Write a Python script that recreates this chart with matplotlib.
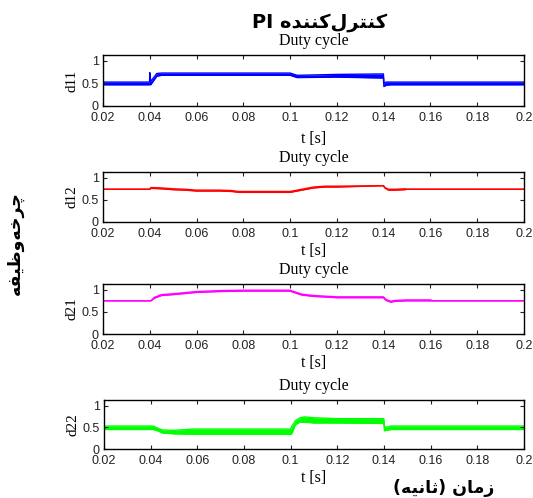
import matplotlib
matplotlib.use("Agg")
import matplotlib.pyplot as plt

# ---------------- data ----------------
t_d11 = [0.02, 0.0399, 0.0400, 0.0404, 0.0412, 0.0430, 0.0450, 0.1000, 0.1030, 0.1200, 0.1399, 0.1401, 0.1410, 0.1430, 0.2000]
d11_hi = [0.53, 0.53, 0.74, 0.54, 0.60, 0.72, 0.73, 0.73, 0.68, 0.70, 0.71, 0.50, 0.53, 0.53, 0.53]
d11_lo = [0.47, 0.47, 0.49, 0.47, 0.53, 0.66, 0.68, 0.68, 0.63, 0.64, 0.62, 0.43, 0.46, 0.47, 0.47]

t_d12 = [0.02, 0.0400, 0.0405, 0.045, 0.050, 0.055, 0.060, 0.070, 0.075, 0.078, 0.090, 0.100, 0.103, 0.107, 0.110, 0.115, 0.120, 0.1399, 0.1405, 0.142, 0.145, 0.149, 0.150, 0.2]
d12_hi = [0.74, 0.74, 0.78, 0.77, 0.75, 0.74, 0.72, 0.72, 0.71, 0.69, 0.69, 0.69, 0.72, 0.76, 0.79, 0.81, 0.81, 0.82, 0.78, 0.74, 0.74, 0.75, 0.74, 0.74]
d12_lo = [0.74, 0.74, 0.76, 0.75, 0.73, 0.72, 0.70, 0.70, 0.69, 0.67, 0.67, 0.67, 0.70, 0.74, 0.77, 0.79, 0.79, 0.82, 0.77, 0.72, 0.72, 0.73, 0.74, 0.74]

t_d21 = [0.02, 0.0405, 0.042, 0.045, 0.050, 0.060, 0.070, 0.080, 0.1000, 0.101, 0.105, 0.110, 0.120, 0.1399, 0.141, 0.143, 0.145, 0.150, 0.160, 0.161, 0.2]
d21_hi = [0.75, 0.75, 0.83, 0.89, 0.91, 0.96, 0.98, 0.99, 0.99, 0.97, 0.90, 0.87, 0.84, 0.84, 0.78, 0.74, 0.76, 0.77, 0.77, 0.75, 0.75]
d21_lo = [0.75, 0.75, 0.81, 0.87, 0.89, 0.94, 0.96, 0.97, 0.97, 0.95, 0.88, 0.85, 0.82, 0.82, 0.76, 0.72, 0.74, 0.75, 0.75, 0.75, 0.75]

t_d22 = [0.02, 0.041, 0.043, 0.045, 0.050, 0.058, 0.1000, 0.1005, 0.102, 0.104, 0.106, 0.110, 0.120, 0.1399, 0.1402, 0.141, 0.143, 0.2]
d22_hi = [0.53, 0.53, 0.48, 0.44, 0.43, 0.46, 0.46, 0.52, 0.65, 0.72, 0.74, 0.72, 0.70, 0.70, 0.52, 0.50, 0.53, 0.53]
d22_lo = [0.45, 0.45, 0.42, 0.37, 0.35, 0.34, 0.34, 0.36, 0.56, 0.62, 0.62, 0.60, 0.60, 0.59, 0.42, 0.43, 0.45, 0.45]

ylabels = ["d11", "d12", "d21", "d22"]
colors = ["#0000ff", "#ff0000", "#ff00ff", "#00ff00"]
xticks = [0.02, 0.04, 0.06, 0.08, 0.1, 0.12, 0.14, 0.16, 0.18, 0.2]
xticklabels = ["0.02", "0.04", "0.06", "0.08", "0.1", "0.12", "0.14", "0.16", "0.18", "0.2"]
yticks = [0, 0.5, 1]
yticklabels = ["0", "0.5", "1"]
subtitle = "Duty cycle"
xlabel = "t [s]"

# Persian texts (pre-shaped presentation forms, visual order)
title_fa = "PI " + "\uFEE9\uFEAA\uFEE8\uFEE8\uFB90" + "\uFEDD\uFEAE\uFE98\uFEE8\uFB90"      # کنترل‌کننده PI
ylabel_fa = "\uFEEA\uFED4\uFBFF\uFEC7\uFEED" + "\uFEEA\uFEA7\uFEAE\uFB7C"                  # چرخه‌وظیفه
xlabel_fa = "(" + "\uFEEA\uFBFF\uFEE7\uFE8E\uFE9B" + ") " + "\uFEE5\uFE8E\uFEE3\uFEAF"      # زمان (ثانیه)

series = [(t_d11, d11_lo, d11_hi), (t_d12, d12_lo, d12_hi),
          (t_d21, d21_lo, d21_hi), (t_d22, d22_lo, d22_hi)]

# ---------------- figure ----------------
W, H = 533, 498
fig = plt.figure(figsize=(W / 100, H / 100), dpi=100)

# axes pixel boxes: (left, top, right, bottom)
boxes = [(103, 55, 524, 106), (103, 172, 524, 222), (103, 284, 524, 334), (104, 400, 524, 449)]
xlabel_pads = [5, 2, 2, 2]

for i, ((l, tp, r, b), (tt, lo, hi)) in enumerate(zip(boxes, series)):
    ax = fig.add_axes([l / W, 1 - b / H, (r - l) / W, (b - tp) / H])
    ax.fill_between(tt, lo, hi, color=colors[i], linewidth=0)
    ax.plot(tt, lo, color=colors[i], lw=1.0)
    ax.plot(tt, hi, color=colors[i], lw=1.0)
    ax.set_xlim(0.02, 0.2)
    ax.set_ylim(0, 1.13)
    ax.set_xticks(xticks)
    ax.set_xticklabels(xticklabels)
    ax.set_yticks(yticks)
    ax.set_yticklabels(yticklabels)
    ax.tick_params(direction="in", top=True, right=True, length=3, width=0.8,
                   labelsize=9, colors="#222222")
    ax.tick_params(axis="x", pad=4.5)
    ax.tick_params(axis="y", pad=3)
    for lab in ax.get_xticklabels() + ax.get_yticklabels():
        lab.set_fontfamily("Liberation Sans")
    for s in ax.spines.values():
        s.set_linewidth(1.0)
    ax.set_title(subtitle, fontsize=11.5, family="Liberation Serif", pad=7)
    ax.set_xlabel(xlabel, fontsize=11.5, family="Liberation Serif", labelpad=xlabel_pads[i])
    ax.set_ylabel(ylabels[i], fontsize=11, family="Liberation Serif", labelpad=2)

fig.text(320 / W, 1 - 22 / H, title_fa, ha="center", va="center", fontsize=14,
         fontweight="bold", family=["DejaVu Sans"])
fig.text(15 / W, 1 - 243 / H, ylabel_fa, ha="center", va="center", rotation=90,
         fontsize=12.5, fontweight="bold", family=["DejaVu Sans"])
fig.text(444 / W, 1 - 488 / H, xlabel_fa, ha="center", va="center", fontsize=12.5,
         fontweight="bold", family=["DejaVu Sans"])

fig.savefig("out.png", dpi=100)
